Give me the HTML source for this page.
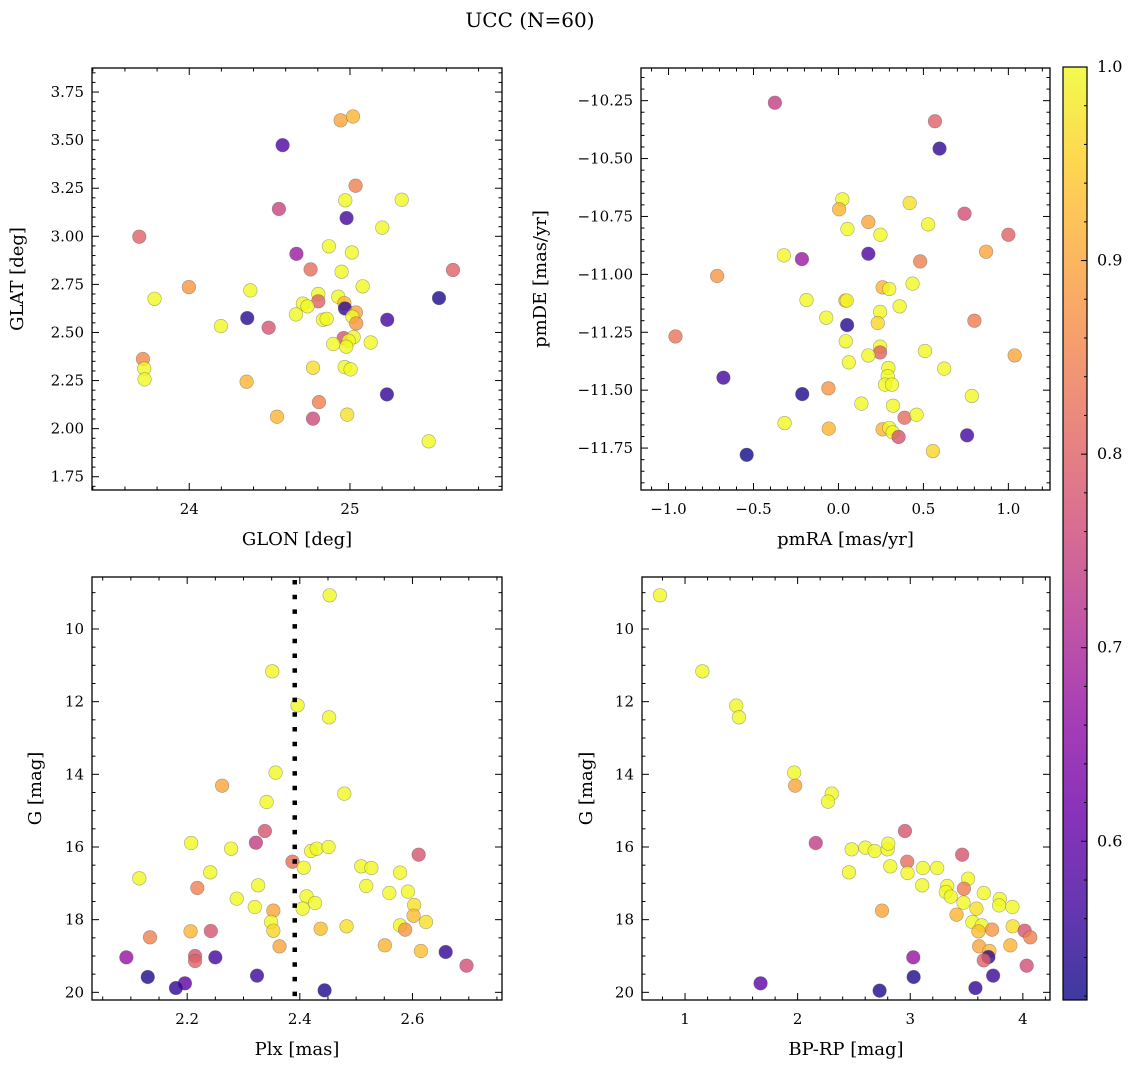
<!DOCTYPE html>
<html><head><meta charset="utf-8"><style>
html,body{margin:0;padding:0;background:#fff;}
svg{display:block;font-family:"DejaVu Serif","Liberation Serif",serif;}
</style></head><body>
<svg id="chart" width="1136" height="1067" viewBox="0 0 1136 1067" xmlns="http://www.w3.org/2000/svg">
<text x="530" y="27" text-anchor="middle" font-size="20">UCC (N=60)</text>
</svg>
<script>
// ---- data: panel 1 (GLON / GLAT) ----
const p1X=[24.942,25.019,24.581,25.035,24.971,25.322,24.558,24.979,25.201,23.689,24.869,25.012,24.667,24.755,25.641,24.948,23.998,25.079,24.380,23.784,25.554,24.803,24.803,24.927,24.965,24.969,24.707,24.736,25.037,25.015,24.664,24.361,25.232,24.832,24.855,25.039,24.197,24.494,23.712,23.720,23.722,24.961,25.023,24.992,24.977,24.896,25.129,24.357,24.770,24.967,25.004,25.230,24.807,24.546,24.770,24.983,25.490];
const p1Y=[3.603,3.623,3.474,3.263,3.187,3.190,3.142,3.095,3.045,2.998,2.948,2.916,2.909,2.828,2.825,2.816,2.736,2.740,2.719,2.675,2.679,2.700,2.662,2.686,2.653,2.625,2.650,2.636,2.604,2.582,2.594,2.575,2.566,2.566,2.571,2.547,2.533,2.525,2.362,2.313,2.256,2.471,2.476,2.457,2.426,2.440,2.448,2.244,2.317,2.320,2.308,2.178,2.138,2.062,2.052,2.073,1.934];
const p1P=[0.90,0.92,0.58,0.85,1.0,1.0,0.75,0.57,1.0,0.80,1.0,1.0,0.68,0.82,0.80,1.0,0.88,1.0,1.0,1.0,0.53,1.0,0.80,1.0,0.92,0.55,1.0,1.0,0.90,1.0,1.0,0.54,0.57,1.0,1.0,0.88,1.0,0.78,0.86,1.0,1.0,0.78,1.0,1.0,1.0,1.0,1.0,0.92,0.97,1.0,1.0,0.55,0.85,0.92,0.76,0.97,1.0];
// ---- data: panel 2 (pmRA / pmDE) ----
const p2X=[-0.374,0.568,0.595,0.023,0.004,0.419,0.742,0.176,0.528,0.053,0.247,1.000,-0.321,-0.215,0.176,0.869,0.481,-0.714,0.436,0.260,0.299,-0.959,-0.188,0.041,0.049,0.360,-0.072,0.245,0.231,0.051,0.800,0.043,0.245,0.245,0.176,0.509,1.037,0.061,-0.677,0.294,0.290,0.274,0.315,0.622,-0.213,-0.059,0.785,0.135,0.321,0.389,0.460,-0.317,-0.057,0.260,0.299,0.319,0.354,0.757,0.556,-0.540];
const p2Y=[-10.259,-10.339,-10.457,-10.676,-10.719,-10.692,-10.738,-10.774,-10.784,-10.804,-10.829,-10.829,-10.918,-10.934,-10.911,-10.902,-10.944,-11.007,-11.040,-11.056,-11.063,-11.268,-11.111,-11.113,-11.113,-11.138,-11.187,-11.162,-11.210,-11.219,-11.200,-11.289,-11.312,-11.337,-11.350,-11.331,-11.350,-11.380,-11.446,-11.404,-11.440,-11.476,-11.476,-11.407,-11.517,-11.492,-11.525,-11.558,-11.567,-11.619,-11.606,-11.642,-11.666,-11.669,-11.663,-11.682,-11.702,-11.695,-11.763,-11.779];
const p2P=[0.74,0.80,0.55,1.0,0.92,0.97,0.77,0.90,1.0,1.0,1.0,0.80,1.0,0.68,0.58,0.90,0.85,0.88,1.0,0.92,1.0,0.83,1.0,0.93,1.0,1.0,1.0,1.0,0.96,0.54,0.84,1.0,1.0,0.80,1.0,1.0,0.90,1.0,0.57,1.0,1.0,1.0,1.0,1.0,0.53,0.88,1.0,1.0,1.0,0.82,1.0,1.0,0.92,0.92,1.0,1.0,0.78,0.57,0.96,0.52];
// ---- data: panel 3 (Plx / G) ----
const p3X=[2.453,2.351,2.396,2.452,2.357,2.262,2.479,2.341,2.338,2.322,2.207,2.278,2.420,2.430,2.451,2.387,2.611,2.407,2.509,2.527,2.578,2.115,2.241,2.218,2.326,2.518,2.559,2.592,2.288,2.412,2.427,2.320,2.405,2.603,2.353,2.349,2.602,2.624,2.353,2.437,2.483,2.578,2.587,2.206,2.242,2.134,2.364,2.551,2.615,2.092,2.214,2.214,2.250,2.659,2.696,2.130,2.324,2.196,2.180,2.444];
const p3Y=[9.073,11.165,12.101,12.431,13.954,14.312,14.532,14.761,15.560,15.881,15.890,16.046,16.110,16.046,16.000,16.404,16.211,16.569,16.532,16.578,16.706,16.862,16.697,17.128,17.055,17.073,17.266,17.229,17.422,17.358,17.541,17.651,17.697,17.596,17.752,18.064,17.890,18.064,18.303,18.248,18.183,18.156,18.275,18.321,18.312,18.486,18.734,18.706,18.862,19.037,19.000,19.138,19.037,18.890,19.266,19.578,19.541,19.752,19.881,19.945];
const p3P=[1.0,1.0,1.0,1.0,1.0,0.90,1.0,1.0,0.78,0.74,1.0,1.0,1.0,1.0,1.0,0.82,0.78,1.0,1.0,1.0,1.0,1.0,1.0,0.85,1.0,1.0,1.0,1.0,1.0,1.0,1.0,1.0,1.0,0.97,0.90,1.0,0.93,0.97,0.96,0.93,0.97,1.0,0.88,0.92,0.78,0.85,0.90,0.92,0.93,0.67,0.78,0.80,0.57,0.55,0.77,0.53,0.56,0.60,0.55,0.53];
const plxLine=[2.391];
// ---- data: panel 4 (BP-RP / G) ----
const p4X=[0.778,1.154,1.455,1.479,1.969,1.978,2.303,2.270,2.161,2.953,2.480,2.601,2.684,2.799,2.805,2.973,3.461,2.823,3.112,3.239,2.456,2.976,3.514,3.106,3.476,3.328,3.316,3.360,3.653,3.795,3.473,3.789,3.907,3.588,2.749,3.411,3.552,3.635,3.606,3.727,3.910,4.016,4.066,3.612,3.889,3.703,3.694,3.653,3.027,4.034,3.030,3.736,1.671,3.579,2.728];
const p4Y=[9.073,11.165,12.110,12.431,13.954,14.312,14.532,14.752,15.890,15.560,16.064,16.018,16.110,16.064,15.908,16.404,16.211,16.532,16.578,16.578,16.697,16.716,16.872,17.055,17.147,17.073,17.239,17.367,17.266,17.431,17.532,17.606,17.651,17.697,17.752,17.862,18.064,18.156,18.321,18.275,18.183,18.303,18.486,18.734,18.706,18.862,19.028,19.119,19.037,19.266,19.578,19.541,19.752,19.881,19.954];
const p4P=[1.0,1.0,1.0,1.0,1.0,0.90,1.0,1.0,0.74,0.78,1.0,1.0,1.0,1.0,1.0,0.82,0.78,1.0,1.0,1.0,1.0,1.0,1.0,1.0,0.84,1.0,1.0,1.0,1.0,1.0,1.0,1.0,1.0,0.97,0.90,0.92,1.0,1.0,0.93,0.88,0.97,0.78,0.85,0.90,0.92,0.93,0.55,0.80,0.67,0.77,0.53,0.56,0.60,0.55,0.53];
// ---- tick labels ----
const p1XTicks=[24,25];
const p1YTicks=["1.75","2.00","2.25","2.50","2.75","3.00","3.25","3.50","3.75"];
const p2XTicks=["−1.0","−0.5","0.0","0.5","1.0"];
const p2YTicks=["−10.25","−10.50","−10.75","−11.00","−11.25","−11.50","−11.75"];
const p3XTicks=["2.2","2.4","2.6"];
const gTicks=["10","12","14","16","18","20"];
const p4XTicks=["1","2","3","4"];
const cbTicks=["0.6","0.7","0.8","0.9","1.0"];

const NS="http://www.w3.org/2000/svg";
const svg=document.getElementById('chart');
function mk(tag,attrs,parent){const e=document.createElementNS(NS,tag);for(const k in attrs)e.setAttribute(k,attrs[k]);(parent||svg).appendChild(e);return e;}
const VMIN=0.518,VMAX=1.0;
const plasma=[[0,13,8,135],[0.1,65,4,157],[0.2,106,0,168],[0.3,143,13,164],[0.4,177,42,144],[0.5,204,71,120],[0.6,225,100,98],[0.7,242,132,75],[0.8,252,166,54],[0.9,252,206,37],[1,240,249,33]];
function cmap(t){t=Math.max(0,Math.min(1,t));for(let i=1;i<plasma.length;i++){if(t<=plasma[i][0]){const a=plasma[i-1],b=plasma[i];const f=(t-a[0])/(b[0]-a[0]);return 'rgb('+[1,2,3].map(j=>Math.round(a[j]+f*(b[j]-a[j]))).join(',')+')';}}return 'rgb(240,249,33)';}

function panel(cfg){
  const g=mk('g',{});
  
  
  const sx=v=>cfg.x0+(v-cfg.xmin)/(cfg.xmax-cfg.xmin)*(cfg.x1-cfg.x0);
  const sy=v=>cfg.yinv? cfg.y0+(v-cfg.ymin)/(cfg.ymax-cfg.ymin)*(cfg.y1-cfg.y0) : cfg.y1-(v-cfg.ymin)/(cfg.ymax-cfg.ymin)*(cfg.y1-cfg.y0);
  const pts=mk('g',{},g);
  
  
  for(let i=0;i<cfg.xs.length;i++){
    const c=mk('circle',{cx:sx(cfg.xs[i]),cy:sy(cfg.ys[i]),r:6.8,fill:cmap((cfg.ps[i]-VMIN)/(VMAX-VMIN)),'fill-opacity':0.8,stroke:'#555','stroke-opacity':0.5,'stroke-width':0.6},pts);
    
    
  }
  if(cfg.vline){for(const v of cfg.vline){const l=mk('line',{x1:sx(v),x2:sx(v),y1:cfg.y0+3,y2:cfg.y1,stroke:'#000','stroke-width':4.5,'stroke-dasharray':'4.5,10.2'},g);
    
    }}
  const tk=mk('g',{stroke:'#000','stroke-width':1},g);
  function xt(v,len){const x=sx(v);mk('line',{x1:x,x2:x,y1:cfg.y1,y2:cfg.y1-len},tk);mk('line',{x1:x,x2:x,y1:cfg.y0,y2:cfg.y0+len},tk);}
  function yt(v,len){const y=sy(v);mk('line',{x1:cfg.x0,x2:cfg.x0+len,y1:y,y2:y},tk);mk('line',{x1:cfg.x1,x2:cfg.x1-len,y1:y,y2:y},tk);}
  for(let v=Math.ceil(cfg.xmin/cfg.xminor-1e-9)*cfg.xminor;v<=cfg.xmax;v+=cfg.xminor){const isMaj=Math.abs(v/cfg.xmajor-Math.round(v/cfg.xmajor))<1e-6;xt(v,isMaj?7:3.5);}
  for(let v=Math.ceil(cfg.ymin/cfg.yminor-1e-9)*cfg.yminor;v<=cfg.ymax;v+=cfg.yminor){const isMaj=Math.abs(v/cfg.ymajor-Math.round(v/cfg.ymajor))<1e-6;yt(v,isMaj?7:3.5);}
  cfg.xticks.forEach((lab,i)=>{const v=cfg.xtv[i];const t=mk('text',{x:sx(v),y:cfg.y1+24,'text-anchor':'middle','font-size':15},g);t.textContent=lab;
    });
  cfg.yticks.forEach((lab,i)=>{const v=cfg.ytv[i];const t=mk('text',{x:cfg.x0-8,y:sy(v)+5,'text-anchor':'end','font-size':15},g);t.textContent=lab;
    });
  mk('rect',{x:cfg.x0,y:cfg.y0,width:cfg.x1-cfg.x0,height:cfg.y1-cfg.y0,fill:'none',stroke:'#000','stroke-width':1.3},g);
  const xl=mk('text',{x:(cfg.x0+cfg.x1)/2,y:cfg.y1+55,'text-anchor':'middle','font-size':18},g);xl.textContent=cfg.xlabel;
  
  const cy=(cfg.y0+cfg.y1)/2;
  const yl=mk('text',{x:cfg.ylx,y:cy,'text-anchor':'middle','font-size':18,transform:'rotate(-90 '+cfg.ylx+' '+cy+')'},g);yl.textContent=cfg.ylabel;
  
}
panel({name:'glon-glat-panel',x0:92,x1:502,y0:68,y1:490,xmin:23.395,xmax:25.946,ymin:1.681,ymax:3.875,xs:p1X,ys:p1Y,ps:p1P,xminor:0.2,xmajor:1,yminor:0.05,ymajor:0.25,
  xticks:p1XTicks.map(String),xtv:p1XTicks,yticks:p1YTicks,ytv:p1YTicks.map(Number),xlabel:'GLON [deg]',ylabel:'GLAT [deg]',ylx:23});
panel({name:'pm-panel',x0:641,x1:1050,y0:68,y1:490,xmin:-1.162,xmax:1.245,ymin:-11.931,ymax:-10.109,xs:p2X,ys:p2Y,ps:p2P,xminor:0.1,xmajor:0.5,yminor:0.05,ymajor:0.25,
  xticks:p2XTicks,xtv:p2XTicks.map(s=>Number(s.replace('−','-'))),yticks:p2YTicks,ytv:p2YTicks.map(s=>Number(s.replace('−','-'))),xlabel:'pmRA [mas/yr]',ylabel:'pmDE [mas/yr]',ylx:546});
panel({name:'plx-g-panel',x0:92,x1:502,y0:577,y1:1000,xmin:2.031,xmax:2.759,ymin:8.569,ymax:20.211,yinv:true,xs:p3X,ys:p3Y,ps:p3P,xminor:0.05,xmajor:0.2,yminor:0.5,ymajor:2,vline:plxLine,
  xticks:p3XTicks,xtv:p3XTicks.map(Number),yticks:gTicks,ytv:gTicks.map(Number),xlabel:'Plx [mas]',ylabel:'G [mag]',ylx:41});
panel({name:'cmd-panel',x0:642,x1:1050,y0:577,y1:1000,xmin:0.618,xmax:4.241,ymin:8.569,ymax:20.211,yinv:true,xs:p4X,ys:p4Y,ps:p4P,xminor:0.2,xmajor:1,yminor:0.5,ymajor:2,
  xticks:p4XTicks,xtv:p4XTicks.map(Number),yticks:gTicks,ytv:gTicks.map(Number),xlabel:'BP-RP [mag]',ylabel:'G [mag]',ylx:592});

// colorbar
(function(){
  const cb=mk('g',{});
  
  
  const defs=mk('defs',{},cb);
  const lg=mk('linearGradient',{id:'plasmaGrad',x1:0,y1:1,x2:0,y2:0},defs);
  plasma.forEach(s=>mk('stop',{offset:s[0],'stop-color':cmap(s[0])},lg));
  const x0=1063,x1=1087,y0=67,y1=1000;
  mk('rect',{x:x0,y:y0,width:x1-x0,height:y1-y0,fill:'url(#plasmaGrad)','fill-opacity':0.8},cb);
  mk('rect',{x:x0,y:y0,width:x1-x0,height:y1-y0,fill:'none',stroke:'#000','stroke-width':1.2},cb);
  const sy=v=>y1-(v-VMIN)/(VMAX-VMIN)*(y1-y0);
  for(let v=0.52;v<=1.0001;v+=0.02){const maj=Math.abs(v*10-Math.round(v*10))<1e-6;mk('line',{x1:x1,x2:x1-(maj?6:3),y1:sy(v),y2:sy(v),stroke:'#000'},cb);}
  cbTicks.forEach(l=>{const t=mk('text',{x:1097,y:sy(Number(l))+5,'font-size':16},cb);t.textContent=l;
    });
})();
</script>
</body></html>
